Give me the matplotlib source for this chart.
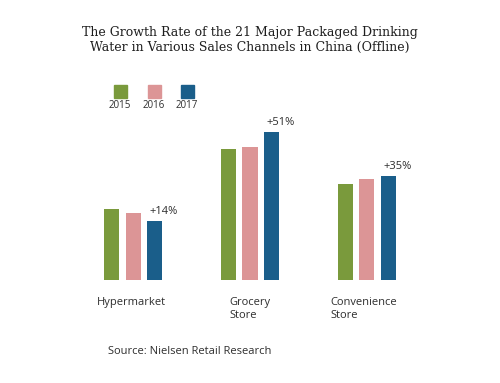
import numpy as np
import matplotlib
matplotlib.use("Agg")
import matplotlib.pyplot as plt
from matplotlib.patches import Rectangle

channels = ["Hypermarket", "Grocery\nStore", "Convenience\nStore"]
years = ["2015", "2016", "2017"]
sales_2015 = [71, 131, 96]
sales_2016 = [67, 133, 101]
sales_2017 = [59, 148, 104]
growth_labels = ["+14%", "+51%", "+35%"]

colors = ["#7a9a3c", "#dc9596", "#1a5e8a"]
text_color = "#2e2e2e"

W, H = 500, 383
fig = plt.figure(figsize=(W / 100, H / 100), dpi=100)

def fx(px):
    return px / W

def fy(py):
    return 1 - py / H

# axes placed in pixel terms: baseline at y=280, group spacing ~117 px
ax = fig.add_axes([0, fy(280), 1, fy(120) - fy(280)])
ax.set_ylim(0, 160)
ax.set_xlim(-133.3 / 116.7, (W - 133.3) / 116.7)
ax.axis("off")

x = np.arange(len(channels))
pitch = 0.183
width = 0.129
series = [sales_2015, sales_2016, sales_2017]
for i, vals in enumerate(series):
    ax.bar(x + (i - 1) * pitch, vals, width, color=colors[i])

for xi, v, lab in zip(x, sales_2017, growth_labels):
    ax.annotate(lab, (xi + pitch - width / 2, v), xytext=(2, 3),
                textcoords="offset points", ha="left", va="bottom",
                fontsize=8, color=text_color, family="Open Sans")

label_px = [97, 229, 330]
for px, name in zip(label_px, channels):
    fig.text(fx(px), fy(297), name, ha="left", va="top", fontsize=8,
             color=text_color, family="Open Sans", linespacing=1.3)

# title
fig.text(0.5, fy(40), "The Growth Rate of the 21 Major Packaged Drinking\n"
         "Water in Various Sales Channels in China (Offline)",
         ha="center", va="center", fontsize=9, color="#1e1e1e",
         family="DejaVu Serif", linespacing=1.2)

# legend
leg_cx = [120, 154, 187]
for cx, c, y in zip(leg_cx, colors, years):
    fig.patches.append(Rectangle((fx(cx - 6.5), fy(97.5)), fx(13), fy(85.5) - fy(97.5),
                                 transform=fig.transFigure, color=c))
    fig.text(fx(cx), fy(106), y, ha="center", va="center", fontsize=7,
             color=text_color, family="Open Sans")

fig.text(fx(108), fy(351), "Source: Nielsen Retail Research", ha="left",
         va="center", fontsize=8, color=text_color, family="Open Sans")

fig.savefig("out.png", dpi=100, facecolor="white")
